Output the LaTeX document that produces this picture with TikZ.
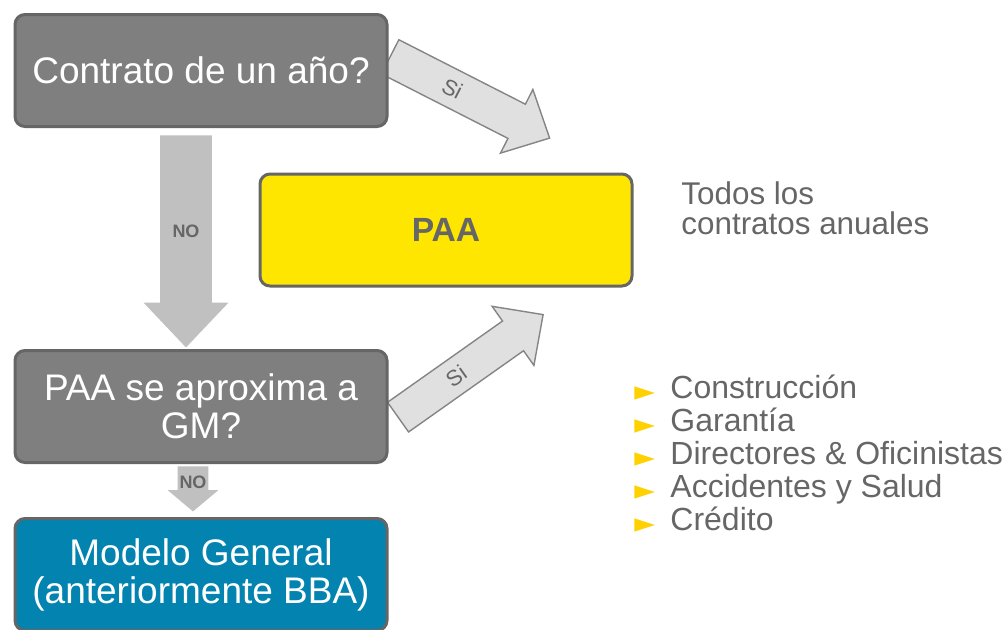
\documentclass[tikz,border=0pt]{standalone}
\usepackage{fontspec}
\setmainfont{Liberation Sans}
\newfontfamily\symbolfont{DejaVu Sans}
\usetikzlibrary{shapes.arrows,calc,backgrounds}
\definecolor{boxGray}{HTML}{7F7F7F}
\definecolor{edgeGray}{HTML}{666666}
\definecolor{textGray}{HTML}{666666}
\definecolor{paaYellow}{HTML}{FFE600}
\definecolor{gmBlue}{HTML}{0283B0}
\definecolor{yesFill}{HTML}{E0E0E0}
\definecolor{yesEdge}{HTML}{858585}
\definecolor{noFill}{HTML}{C0C0C0}
\definecolor{bulletYellow}{HTML}{FFD100}

\begin{document}
\begin{tikzpicture}[x=0.5pt, y=-0.5pt,
    question/.style={rectangle, rounded corners=5pt, minimum width=186pt, minimum height=56pt, align=center, draw=edgeGray, line width=1.5pt, fill=boxGray, text=white, font=\fontsize{18.5}{19}\selectfont},
    paaBox/.style={question, fill=paaYellow, text=textGray, font=\fontsize{16.8}{19}\selectfont\bfseries},
    modelBox/.style={question, fill=gmBlue},
    yesArrow/.style={single arrow, anchor=tail, draw=yesEdge, line width=0.7pt, fill=yesFill, inner xsep=0pt, minimum width=0pt},
    noArrow/.style={single arrow, anchor=tail, fill=noFill, inner xsep=0pt, minimum width=0pt, rotate=-90},
    yesLabel/.style={text=textGray, font=\fontsize{11}{12}\selectfont, inner sep=0pt},
    noLabel/.style={text=textGray, font=\fontsize{9}{10}\selectfont\bfseries, inner sep=0pt},
    note/.style={text=textGray, font=\fontsize{15.7}{15}\selectfont, align=left, inner sep=0pt},
    listItem/.style={text=textGray, font=\fontsize{16}{16}\selectfont, anchor=base west, inner sep=0pt},
    bullet/.style={text=bulletYellow, font=\symbolfont\fontsize{13.5}{13.5}\selectfont, anchor=base west, inner sep=0pt}
]
\useasboundingbox (0,0) rectangle (1005,629);

% Decision boxes
\node[question] (question1) at (201,70.5) {Contrato de un año?};
\node[paaBox] (paa) at (446,230) {PAA};
\node[question] (question2) at (201,406.5) {PAA se aproxima a\\GM?};
\node[modelBox] (model) at (201,574.5) {Modelo General\\(anteriormente BBA)};

% Block arrows, behind the boxes
\begin{scope}[on background layer]
\node[yesArrow, rotate=-27, minimum height=89.5pt, inner ysep=9.25pt, single arrow head extend=8.25pt, single arrow tip angle=88] (yes1) at ($(question1.east)+(1,-14)$) {};
\node[yesArrow, rotate=35.25, minimum height=88.8pt, inner ysep=8.75pt, single arrow head extend=9pt, single arrow tip angle=89] (yes2) at ($(question2.east)+(9,11)$) {};
\node[noArrow, minimum height=106pt, inner ysep=12.75pt, single arrow head extend=8.25pt, single arrow tip angle=87] (no1) at ($(question1.south)+(-15,7)$) {};
\node[noArrow, minimum height=22.5pt, inner ysep=7.5pt, single arrow head extend=5pt, single arrow tip angle=100] (no2) at ($(question2.south)+(-8,2)$) {};
\end{scope}

% Arrow labels
\node[yesLabel, rotate=-27] (yesText1) at ($(yes1.tail)!0.39!(yes1.tip)$) {Si};
\node[yesLabel, rotate=35.25] (yesText2) at ($(yes2.tail)!0.4!(yes2.tip)$) {Si};
\node[noLabel] (noText1) at ($(no1.tail)!0.45!(no1.tip)$) {NO};
\node[noLabel] (noText2) at ($(no2.tail)!0.36!(no2.tip)$) {NO};

% Notes on the right
\node[note, anchor=west] (allAnnual) at (681,208) {Todos los\\contratos anuales};
\foreach \entry [count=\i] in {Construcción, Garantía, Directores \& Oficinistas, Accidentes y Salud, Crédito} {
    \node[bullet] (bullet\i) at (634,{400+33*(\i-1)}) {►};
    \node[listItem] (item\i) at (670,{398+33*(\i-1)}) {\entry};
}

\end{tikzpicture}
\end{document}
